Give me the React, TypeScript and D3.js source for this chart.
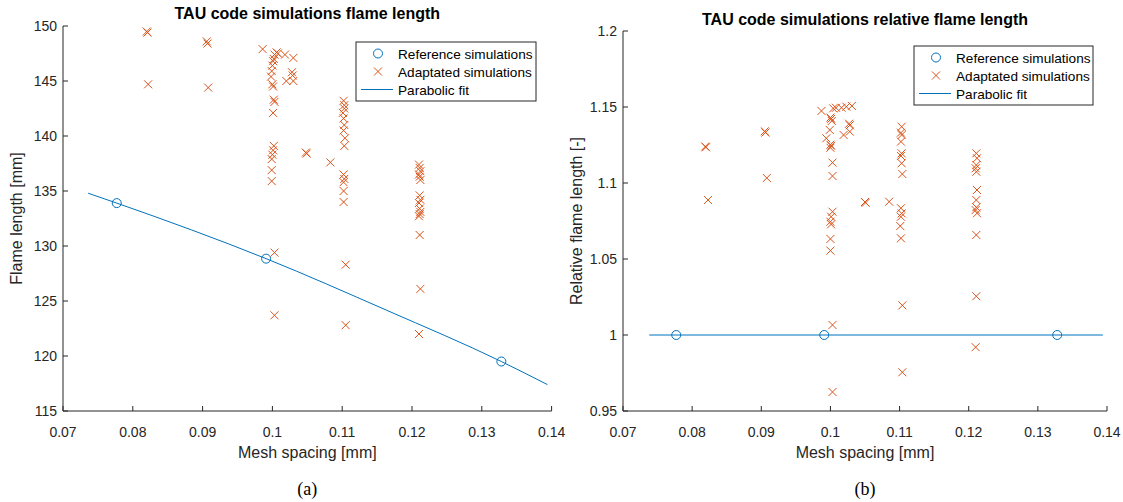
import React from "react";
import * as d3 from "d3";

// ---------- Data ----------
const xTicks = [0.07, 0.08, 0.09, 0.1, 0.11, 0.12, 0.13, 0.14];
const xTickLabels = ["0.07", "0.08", "0.09", "0.1", "0.11", "0.12", "0.13", "0.14"];

const leftYTicks = [115, 120, 125, 130, 135, 140, 145, 150];
const leftYTickLabels = ["115", "120", "125", "130", "135", "140", "145", "150"];
const rightYTicks = [0.95, 1, 1.05, 1.1, 1.15, 1.2];
const rightYTickLabels = ["0.95", "1", "1.05", "1.1", "1.15", "1.2"];

const refX = [0.0777, 0.0991, 0.1328];
const refYLeft = [133.9, 128.85, 119.5];
const refYRight = [1, 1, 1];

const fitXLeft = [0.0736, 0.0777, 0.0991, 0.1164, 0.1328, 0.1394];
const fitYLeft = [134.8, 133.9, 128.85, 124.15, 119.5, 117.4];
const fitXRight = [0.0738, 0.1394];
const fitYRight = [1, 1];

const adaptXLeft = [
  0.082, 0.0821, 0.0822, 0.0906, 0.0907, 0.0908, 0.0986, 0.0998, 0.0999, 0.1,
  0.1001, 0.1002, 0.1003, 0.1006, 0.1008, 0.1, 0.1001, 0.1002, 0.1003, 0.1001,
  0.1002, 0.1001, 0.1, 0.0999, 0.0999, 0.0999, 0.1003, 0.1003, 0.1018, 0.103,
  0.1028, 0.1029, 0.102, 0.103, 0.1048, 0.1049, 0.1083, 0.1102, 0.1103, 0.1103,
  0.1101, 0.1102, 0.1103, 0.1102, 0.1104, 0.1103, 0.1102, 0.1103, 0.1102, 0.1102,
  0.1102, 0.1105, 0.1105, 0.121, 0.1211, 0.1212, 0.121, 0.1211, 0.1212, 0.1211,
  0.1212, 0.121, 0.1211, 0.1212, 0.1211, 0.121, 0.1211, 0.1212, 0.121,
];
const adaptYLeft = [
  149.5, 149.4, 144.7, 148.6, 148.4, 144.4, 147.9, 145.4, 145.9, 146.4,
  146.8, 147.0, 147.4, 147.6, 147.5, 144.7, 144.5, 143.3, 143.1, 142.1,
  139.1, 138.7, 138.3, 137.9, 136.9, 135.9, 129.4, 123.7, 147.4, 147.1,
  145.8, 145.5, 145.0, 145.0, 138.5, 138.4, 137.6, 143.2, 142.8, 142.5,
  142.1, 141.6, 141.0, 140.5, 139.8, 139.1, 136.5, 136.1, 135.8, 135.0,
  134.0, 128.3, 122.8, 137.4, 137.1, 136.8, 136.5, 136.3, 136.0, 134.6,
  134.2, 133.9, 133.4, 133.1, 132.9, 132.7, 131.0, 126.1, 122.0,
];

const adaptXRight = [
  0.0819, 0.082, 0.0823, 0.0905, 0.0906, 0.0908, 0.0987, 0.1004, 0.1008, 0.1016,
  0.1023, 0.1031, 0.1, 0.1001, 0.1002, 0.0999, 0.1027, 0.1028, 0.1019, 0.1028,
  0.0994, 0.1, 0.1001, 0.1, 0.1003, 0.1003, 0.1003, 0.1001, 0.1, 0.1001,
  0.1, 0.1, 0.1003, 0.1003, 0.105, 0.1051, 0.1085, 0.1103, 0.1102, 0.1103,
  0.1102, 0.1103, 0.1102, 0.1103, 0.1104, 0.1102, 0.1103, 0.1102, 0.1101, 0.1102,
  0.1104, 0.1104, 0.1211, 0.1212, 0.1211, 0.121, 0.1211, 0.1212, 0.1211, 0.1211,
  0.121, 0.1212, 0.1211, 0.1211, 0.121,
];
const adaptYRight = [
  1.124, 1.1235, 1.0888, 1.134, 1.1332, 1.1033, 1.1474, 1.1491, 1.1495, 1.1495,
  1.1502, 1.1507, 1.143, 1.1422, 1.1408, 1.1349, 1.139, 1.138, 1.1316, 1.1338,
  1.1294, 1.1252, 1.1245, 1.1232, 1.1134, 1.1046, 1.0811, 1.0778, 1.0745, 1.0728,
  1.0632, 1.0555, 1.0066, 0.9625, 1.0875, 1.087, 1.0877, 1.137, 1.1331, 1.1316,
  1.1272, 1.1195, 1.1178, 1.113, 1.1059, 1.0834, 1.08, 1.0778, 1.0717, 1.0636,
  1.0195, 0.9755, 1.1195, 1.1163, 1.1118, 1.1097, 1.1074, 1.0954, 1.0888, 1.084,
  1.0822, 1.0801, 1.0658, 1.0255, 0.992,
];

const legendLabels = ["Reference simulations", "Adaptated simulations", "Parabolic fit"];

// ---------- Styles ----------
const BLUE = "#0072BD";
const ORANGE = "#D95319";
const AXIS = "#262626";
const FONT = "'Liberation Sans', Arial, Helvetica, sans-serif";

type PanelProps = {
  left: number;
  right: number;
  top: number;
  bottom: number;
  yDomain: [number, number];
  yTicks: number[];
  yTickLabels: string[];
  title: string;
  titleY: number;
  yLabel: string;
  yLabelX: number;
  refY: number[];
  fitX: number[];
  fitY: number[];
  adaptX: number[];
  adaptY: number[];
  legend: { x: number; y: number; w: number; h: number };
  caption: string;
};

function Cross({ x, y }: { x: number; y: number }) {
  const s = 4;
  return (
    <path
      d={`M${x - s},${y - s}L${x + s},${y + s}M${x - s},${y + s}L${x + s},${y - s}`}
      stroke={ORANGE}
      strokeWidth={1}
      fill="none"
    />
  );
}

function Panel(p: PanelProps) {
  const x = d3.scaleLinear().domain([0.07, 0.14]).range([p.left, p.right]);
  const y = d3.scaleLinear().domain(p.yDomain).range([p.bottom, p.top]);
  const line = d3
    .line<number>()
    .x((_, i) => x(p.fitX[i]))
    .y((d) => y(d))
    .curve(d3.curveMonotoneX);
  const cx = (p.left + p.right) / 2;
  const cy = (p.top + p.bottom) / 2;
  const lg = p.legend;
  const rowH = 18;
  return (
    <g>
      {/* axes lines */}
      <line x1={p.left} x2={p.right} y1={p.bottom} y2={p.bottom} stroke={AXIS} strokeWidth={1} />
      <line x1={p.left} x2={p.left} y1={p.top} y2={p.bottom} stroke={AXIS} strokeWidth={1} />
      {xTicks.map((t, i) => (
        <g key={"xt" + i}>
          <line x1={x(t)} x2={x(t)} y1={p.bottom} y2={p.bottom - 5} stroke={AXIS} strokeWidth={1} />
          <text x={x(t)} y={p.bottom + 26} textAnchor="middle" fontFamily={FONT} fontSize={14} fill={AXIS}>
            {xTickLabels[i]}
          </text>
        </g>
      ))}
      {p.yTicks.map((t, i) => (
        <g key={"yt" + i}>
          <line x1={p.left} x2={p.left + 5} y1={y(t)} y2={y(t)} stroke={AXIS} strokeWidth={1} />
          <text x={p.left - 6} y={y(t) + 5} textAnchor="end" fontFamily={FONT} fontSize={14} fill={AXIS}>
            {p.yTickLabels[i]}
          </text>
        </g>
      ))}
      {/* title */}
      <text x={cx} y={p.titleY} textAnchor="middle" fontFamily={FONT} fontSize={16} fontWeight="bold" fill="#000">
        {p.title}
      </text>
      {/* axis labels */}
      <text x={cx} y={p.bottom + 47} textAnchor="middle" fontFamily={FONT} fontSize={16} fill={AXIS}>
        Mesh spacing [mm]
      </text>
      <text
        transform={`translate(${p.yLabelX},${cy}) rotate(-90)`}
        textAnchor="middle"
        fontFamily={FONT}
        fontSize={16}
        fill={AXIS}
      >
        {p.yLabel}
      </text>
      {/* caption */}
      <text x={cx} y={p.bottom + 84} textAnchor="middle" fontFamily="'Liberation Serif', 'Times New Roman', serif" fontSize={18} fill="#000">
        {p.caption}
      </text>
      {/* fit line */}
      <path d={line(p.fitY) || ""} stroke={BLUE} strokeWidth={1} fill="none" />
      {/* reference circles */}
      {refX.map((v, i) => (
        <circle key={"r" + i} cx={x(v)} cy={y(p.refY[i])} r={4.5} stroke={BLUE} strokeWidth={1} fill="none" />
      ))}
      {/* adapted crosses */}
      {p.adaptX.map((v, i) => (
        <Cross key={"a" + i} x={x(v)} y={y(p.adaptY[i])} />
      ))}
      {/* legend */}
      <g>
        <rect x={lg.x} y={lg.y} width={lg.w} height={lg.h} fill="#fff" stroke={AXIS} strokeWidth={1} />
        <circle cx={lg.x + 22} cy={lg.y + 11.5} r={4.5} stroke={BLUE} strokeWidth={1} fill="none" />
        <Cross x={lg.x + 22} y={lg.y + 11.5 + rowH} />
        <line x1={lg.x + 5} x2={lg.x + 37} y1={lg.y + 11.5 + 2 * rowH} y2={lg.y + 11.5 + 2 * rowH} stroke={BLUE} strokeWidth={1} />
        {legendLabels.map((l, i) => (
          <text key={"l" + i} x={lg.x + 42} y={lg.y + 16.5 + i * rowH} fontFamily={FONT} fontSize={13.6} fill="#000">
            {l}
          </text>
        ))}
      </g>
    </g>
  );
}

export default function App() {
  return (
    <svg
      width={1123}
      height={502}
      style={{ position: "absolute", left: 0, top: 0, background: "#fff" }}
    >
      <rect x={0} y={0} width={1123} height={502} fill="#fff" />
      <Panel
        left={63}
        right={551.6}
        top={26}
        bottom={411}
        yDomain={[115, 150]}
        yTicks={leftYTicks}
        yTickLabels={leftYTickLabels}
        title="TAU code simulations flame length"
        titleY={19}
        yLabel="Flame length [mm]"
        yLabelX={22}
        refY={refYLeft}
        fitX={fitXLeft}
        fitY={fitYLeft}
        adaptX={adaptXLeft}
        adaptY={adaptYLeft}
        legend={{ x: 356, y: 42, w: 180, h: 59 }}
        caption="(a)"
      />
      <Panel
        left={623}
        right={1107}
        top={31}
        bottom={411}
        yDomain={[0.95, 1.2]}
        yTicks={rightYTicks}
        yTickLabels={rightYTickLabels}
        title="TAU code simulations relative flame length"
        titleY={25}
        yLabel="Relative flame length [-]"
        yLabelX={582}
        refY={refYRight}
        fitX={fitXRight}
        fitY={fitYRight}
        adaptX={adaptXRight}
        adaptY={adaptYRight}
        legend={{ x: 914, y: 46, w: 179, h: 59 }}
        caption="(b)"
      />
    </svg>
  );
}
